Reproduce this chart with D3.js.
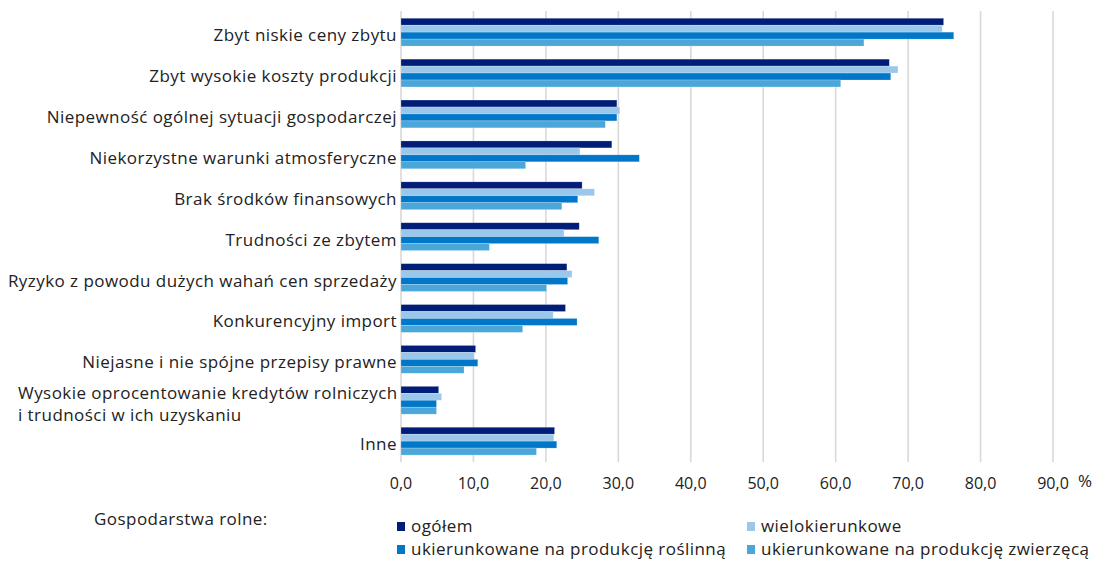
<!DOCTYPE html>
<html>
<head><meta charset="utf-8"/></head>
<script src="https://d3js.org/d3.v7.min.js"></script>
<style>
	body {margin: 0; background: #fff;}
	text {font-family: "Open Sans", sans-serif; fill: #222;}
	.lab {font-size: 17px; letter-spacing: 0.45px;}
</style>
<body>
<svg width="1095" height="562"></svg>
<script>

var categories = [
	"Zbyt niskie ceny zbytu",
	"Zbyt wysokie koszty produkcji",
	"Niepewność ogólnej sytuacji gospodarczej",
	"Niekorzystne warunki atmosferyczne",
	"Brak środków finansowych",
	"Trudności ze zbytem",
	"Ryzyko z powodu dużych wahań cen sprzedaży",
	"Konkurencyjny import",
	"Niejasne i nie spójne przepisy prawne",
	"Wysokie oprocentowanie kredytów rolniczych|i trudności w ich uzyskaniu",
	"Inne"
];
var seriesNames = ["ogółem", "wielokierunkowe", "ukierunkowane na produkcję roślinną", "ukierunkowane na produkcję zwierzęcą"];
var ogolem      = [74.9, 67.4, 29.8, 29.1, 25.0, 24.6, 22.9, 22.7, 10.3, 5.2, 21.2];
var wielo       = [74.7, 68.6, 30.2, 24.7, 26.7, 22.5, 23.6, 21.0, 10.1, 5.6, 21.1];
var roslinna    = [76.3, 67.6, 29.8, 32.9, 24.4, 27.3, 23.0, 24.3, 10.6, 4.9, 21.5];
var zwierzeca   = [63.9, 60.7, 28.2, 17.2, 22.2, 12.2, 20.1, 16.8, 8.7, 4.9, 18.7];
var xTicks = [0, 10, 20, 30, 40, 50, 60, 70, 80, 90];
var colors = ["#001d77", "#9bc8ea", "#0077c8", "#4ba6da"];

var series = [ogolem, wielo, roslinna, zwierzeca];
var svg = d3.select("svg");

var x = d3.scaleLinear().domain([0, 90]).range([401, 1053]);
var y = d3.scaleBand().domain(d3.range(categories.length)).range([11.7, 461.6]).paddingInner(0.32).paddingOuter(0.16);
var ySub = d3.scaleBand().domain(d3.range(series.length)).range([0, y.bandwidth()]);

// gridlines
svg.append("g")
	.selectAll("line")
	.data(xTicks)
	.enter()
	.append("line")
	.attr("x1", d => x(d)).attr("x2", d => x(d))
	.attr("y1", 11).attr("y2", 462)
	.attr("stroke", "#d9d9d9")
	.attr("stroke-width", 1.6);

// bars
var groups = svg.append("g")
	.selectAll("g")
	.data(categories)
	.enter()
	.append("g")
	.attr("transform", (d, i) => "translate(0," + y(i) + ")");

groups.selectAll("rect")
	.data((d, i) => series.map((s, k) => ({k: k, v: s[i]})))
	.enter()
	.append("rect")
	.attr("x", x(0))
	.attr("y", d => ySub(d.k))
	.attr("width", d => x(d.v) - x(0))
	.attr("height", ySub.bandwidth())
	.attr("fill", d => colors[d.k])
	.attr("stroke", "#ffffff")
	.attr("stroke-opacity", 0.35)
	.attr("stroke-width", 0.6);

// category labels
groups.each(function(d, i) {
	var g = d3.select(this);
	var c = y.bandwidth() / 2;
	var lines = d.split("|");
	if (lines.length == 1) {
		g.append("text")
			.attr("class", "lab")
			.attr("x", 397)
			.attr("y", c + 9)
			.attr("text-anchor", "end")
			.text(d);
	} else {
		lines.forEach(function(l, j) {
			g.append("text")
				.attr("class", "lab")
				.attr("x", 18)
				.attr("y", c - 1 + j * 22)
				.text(l);
		});
	}
});

// x tick labels
svg.append("g")
	.selectAll("text")
	.data(xTicks)
	.enter()
	.append("text")
	.attr("x", d => x(d))
	.attr("y", 489)
	.attr("text-anchor", "middle")
	.style("font-size", "16px")
	.text(d => d3.format(".1f")(d).replace(".", ","));

svg.append("text")
	.attr("x", 1078)
	.attr("y", 487)
	.style("font-size", "17px")
	.text("%");

// legend
svg.append("text")
	.attr("class", "lab")
	.attr("x", 94)
	.attr("y", 525)
	.text("Gospodarstwa rolne:");

var legendPos = [[397, 532], [747, 532], [397, 555], [747, 555]];
var legend = svg.append("g")
	.selectAll("g")
	.data(seriesNames)
	.enter()
	.append("g")
	.attr("transform", (d, i) => "translate(" + legendPos[i][0] + "," + legendPos[i][1] + ")");

legend.append("rect")
	.attr("x", 0).attr("y", -10)
	.attr("width", 8).attr("height", 9)
	.attr("fill", (d, i) => colors[i]);

legend.append("text")
	.attr("class", "lab")
	.attr("x", 14)
	.attr("y", 0)
	.text(d => d);

</script>
</body>
</html>
